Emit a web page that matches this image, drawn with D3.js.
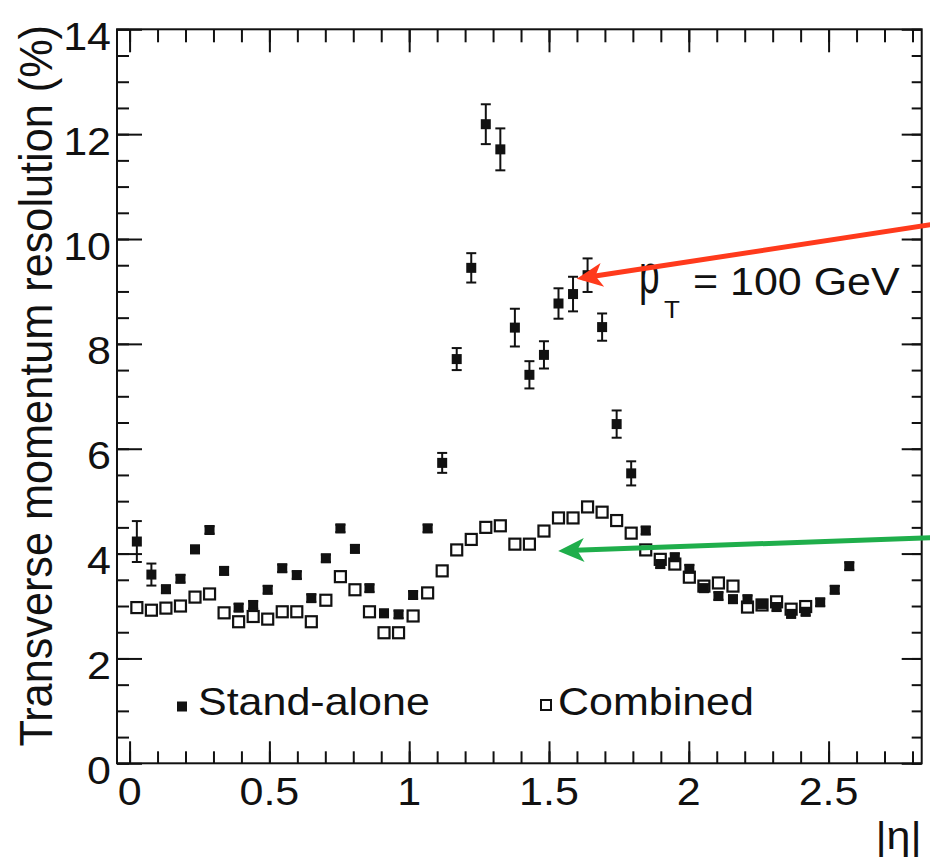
<!DOCTYPE html>
<html><head><meta charset="utf-8">
<script src="https://cdn.jsdelivr.net/npm/d3@7"></script>
<style>body{margin:0;background:#fff}svg{display:block}</style>
</head><body>
<svg id="chart" width="930" height="858"></svg>
<script>
// |eta| bin centres (bin width 0.052)
const etaBins = [0.026,0.078,0.130,0.182,0.234,0.286,0.338,0.390,0.442,0.494,
  0.546,0.598,0.650,0.702,0.754,0.806,0.858,0.910,0.962,1.014,
  1.066,1.118,1.170,1.222,1.274,1.326,1.378,1.430,1.482,1.534,
  1.586,1.638,1.690,1.742,1.794,1.846,1.898,1.950,2.002,2.054,
  2.106,2.158,2.210,2.262,2.314,2.366,2.418,2.470,2.522,2.574];
// Stand-alone resolution (%)
const standAlone = [4.23,3.60,3.32,3.52,4.08,4.45,3.67,2.97,3.02,3.31,
  3.72,3.59,3.15,3.91,4.48,4.09,3.34,2.86,2.84,3.21,
  4.48,5.73,7.71,9.45,12.19,11.71,8.31,7.41,7.79,8.77,
  8.95,9.31,8.32,6.47,5.53,4.44,3.80,3.93,3.71,3.34,
  3.19,3.13,3.13,3.04,2.98,2.85,2.89,3.07,3.31,3.76];
const standAloneErr = [0.39,0.21,0.07,0.07,0.07,0.07,0.07,0.07,0.07,0.07,
  0.07,0.07,0.07,0.07,0.07,0.07,0.07,0.07,0.07,0.07,
  0.07,0.19,0.21,0.28,0.38,0.40,0.36,0.26,0.26,0.29,
  0.33,0.32,0.26,0.26,0.23,0.07,0.07,0.07,0.07,0.07,
  0.07,0.07,0.07,0.07,0.07,0.07,0.07,0.07,0.07,0.07];
// Combined resolution (%)
const combined = [2.97,2.92,2.96,3.00,3.17,3.23,2.87,2.70,2.80,2.75,
  2.89,2.89,2.70,3.11,3.56,3.31,2.89,2.49,2.49,2.81,
  3.25,3.67,4.07,4.27,4.50,4.53,4.18,4.18,4.43,4.68,
  4.68,4.89,4.79,4.63,4.39,4.07,3.89,3.80,3.55,3.38,
  3.44,3.38,2.98,3.02,3.08,2.94,2.99];
const xTickLabels = ["0","0.5","1","1.5","2","2.5"];
const xTickValues = [0,0.5,1,1.5,2,2.5];
const yTickLabels = ["0","2","4","6","8","10","12","14"];
const yTickValues = [0,2,4,6,8,10,12,14];
const annotations = [
  {from:[2.898,10.30], to:[1.599,9.24], color:"#ff3a1c"},
  {from:[2.898,4.31], to:[1.533,4.05], color:"#1fae4b"}
];

const FONT = "'Liberation Sans', Arial, Helvetica, sans-serif";
const svg = d3.select("#chart");
const L = 117, R = 921.7, T = 29.3, B = 763.3;
const x = d3.scaleLinear().domain([-0.045, 2.833]).range([L, R]);
const y = d3.scaleLinear().domain([0, 14]).range([B, T]);

const xMinor = d3.range(0, 2.81, 0.1).map(v => +v.toFixed(2));
const yMinor = d3.range(0, 14.01, 0.5);

function axisG(gen, tx, ty, vals, size) {
  const g = svg.append("g").attr("transform", `translate(${tx},${ty})`)
    .call(gen.tickValues(vals).tickSize(size).tickFormat(""));
  g.select(".domain").remove();
  g.selectAll("line").attr("stroke", "#111").attr("stroke-width", 2);
}
// bottom (ticks inward)
axisG(d3.axisTop(x), 0, B, xMinor, 12);
axisG(d3.axisTop(x), 0, B, xTickValues, 22);
// top
axisG(d3.axisBottom(x), 0, T, xMinor, 13);
axisG(d3.axisBottom(x), 0, T, xTickValues, 23);
// left
axisG(d3.axisRight(y), L, 0, yMinor, 12);
axisG(d3.axisRight(y), L, 0, yTickValues, 25);
// right
axisG(d3.axisLeft(y), R, 0, yMinor, 10);
axisG(d3.axisLeft(y), R, 0, yTickValues, 20);

// frame
svg.append("rect").attr("x", L).attr("y", T).attr("width", R - L).attr("height", B - T)
  .attr("fill", "none").attr("stroke", "#111").attr("stroke-width", 2);

const FS = 43, VS = 0.92;
function txt(str, tx, ty, anchor, fs, sx, sy) {
  return svg.append("text").attr("transform", `translate(${tx},${ty}) scale(${sx||1},${sy||VS})`)
    .attr("text-anchor", anchor).attr("font-family", FONT).attr("font-size", fs || FS)
    .attr("fill", "#111").text(str);
}
// tick labels
xTickValues.forEach((v, i) => txt(xTickLabels[i], x(v), B + 41.5, "middle"));
yTickValues.forEach((v, i) => txt(yTickLabels[i], L - 6, y(v) + 20.5, "end"));

// axis titles
svg.append("text").attr("transform", `translate(51.7,25) rotate(-90) scale(0.93,1)`)
  .attr("text-anchor", "end").attr("font-family", FONT).attr("font-size", 46.5)
  .attr("fill", "#111").text("Transverse momentum resolution (%)");
txt("|η|", R, 849, "end");

// combined (open squares)
const CS = 11;
svg.append("g").selectAll("rect").data(combined).join("rect")
  .attr("x", (d, i) => x(etaBins[i]) - CS / 2).attr("y", d => y(d) - CS / 2)
  .attr("width", CS).attr("height", CS)
  .attr("fill", "none").attr("stroke", "#111").attr("stroke-width", 2.2);

// stand-alone error bars
const eb = svg.append("g").attr("stroke", "#111").attr("stroke-width", 2);
standAlone.forEach((v, i) => {
  const cx = x(etaBins[i]), e = standAloneErr[i];
  eb.append("line").attr("x1", cx).attr("x2", cx).attr("y1", y(v - e)).attr("y2", y(v + e));
  [v - e, v + e].forEach(w => eb.append("line").attr("x1", cx - 5).attr("x2", cx + 5)
    .attr("y1", y(w)).attr("y2", y(w)));
});
// stand-alone markers
const FSQ = 10;
svg.append("g").selectAll("rect").data(standAlone).join("rect")
  .attr("x", (d, i) => x(etaBins[i]) - FSQ / 2).attr("y", d => y(d) - FSQ / 2)
  .attr("width", FSQ).attr("height", FSQ).attr("fill", "#111");

// legend
svg.append("rect").attr("x", 182 - 5).attr("y", 706.5 - 5).attr("width", 10).attr("height", 10).attr("fill", "#111");
txt("Stand-alone", 198, 715, "start");
svg.append("rect").attr("x", 546 - 5).attr("y", 705 - 5).attr("width", 10).attr("height", 10)
  .attr("fill", "none").attr("stroke", "#111").attr("stroke-width", 2);
txt("Combined", 558, 715, "start");

// pT label
txt("p", 639, 292.7, "start", FS, 0.86, VS * 1.38);
txt("T", 664, 318.3, "start", 26);
txt("= 100 GeV", 693, 295, "start");

// arrows
annotations.forEach(a => {
  const x0 = x(a.from[0]), y0 = y(a.from[1]), x1 = x(a.to[0]), y1 = y(a.to[1]);
  const dx = x1 - x0, dy = y1 - y0, len = Math.hypot(dx, dy);
  const ux = dx / len, uy = dy / len, px = -uy, py = ux;
  const hl = 26, hw = 12, notch = 19;
  const bx = x1 - ux * hl, by = y1 - uy * hl;
  const nx = x1 - ux * notch, ny = y1 - uy * notch;
  svg.append("line").attr("x1", x0).attr("y1", y0).attr("x2", nx + ux * 2).attr("y2", ny + uy * 2)
    .attr("stroke", a.color).attr("stroke-width", 5);
  svg.append("path").attr("d",
    `M${x1},${y1}L${bx + px * hw},${by + py * hw}L${nx},${ny}L${bx - px * hw},${by - py * hw}Z`)
    .attr("fill", a.color);
});
</script>
</body></html>
